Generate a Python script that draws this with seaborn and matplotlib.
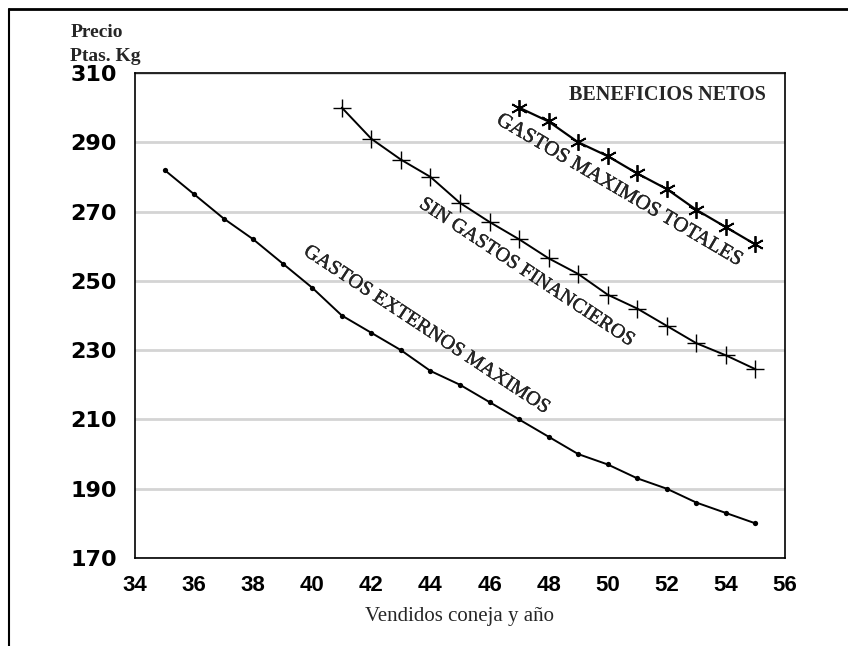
import matplotlib
matplotlib.use("Agg")
import matplotlib.pyplot as plt
import matplotlib.patheffects as pe
import seaborn as sns
import pandas as pd
from matplotlib.lines import Line2D

# ---- data ----
x_ext = [35, 36, 37, 38, 39, 40, 41, 42, 43, 44, 45, 46, 47, 48, 49, 50, 51, 52, 53, 54, 55]
y_ext = [282, 275, 268, 262, 255, 248, 240, 235, 230, 224, 220, 215, 210, 205, 200, 197, 193, 190, 186, 183, 180]

x_sin = [41, 42, 43, 44, 45, 46, 47, 48, 49, 50, 51, 52, 53, 54, 55]
y_sin = [300, 291, 285, 280, 272.5, 267, 262, 256.5, 252, 246, 242, 237, 232, 228.5, 224.5]

x_tot = [47, 48, 49, 50, 51, 52, 53, 54, 55]
y_tot = [300, 296, 290, 286, 281, 276.5, 270.5, 265.5, 260.5]

x_ticks = [34, 36, 38, 40, 42, 44, 46, 48, 50, 52, 54, 56]
y_ticks = [170, 190, 210, 230, 250, 270, 290, 310]

label_ext = "GASTOS EXTERNOS MAXIMOS"
label_sin = "SIN GASTOS FINANCIEROS"
label_tot = "GASTOS MAXIMOS TOTALES"

df_ext = pd.DataFrame({"x": x_ext, "y": y_ext})
df_sin = pd.DataFrame({"x": x_sin, "y": y_sin})
df_tot = pd.DataFrame({"x": x_tot, "y": y_tot})

sns.set_style("white")
plt.rcParams["font.family"] = ["Liberation Sans", "DejaVu Sans"]

fig = plt.figure(figsize=(8.48, 6.46), dpi=100)
ax = fig.add_axes([0.1592, 0.1362, 0.9257 - 0.1592, 0.887 - 0.1362])

sns.lineplot(data=df_ext, x="x", y="y", ax=ax, color="black", lw=1.4,
             marker="o", markersize=3.8, markeredgewidth=0, markerfacecolor="black")
sns.lineplot(data=df_sin, x="x", y="y", ax=ax, color="black", lw=1.4,
             marker="+", markersize=13, markeredgewidth=1.0, markeredgecolor="black")
sns.lineplot(data=df_tot, x="x", y="y", ax=ax, color="black", lw=1.6,
             marker=(6, 2, 0), markersize=12, markeredgewidth=1.3, markeredgecolor="black")

ax.set_xlim(34, 56)
ax.set_ylim(170, 310)
ax.set_xticks(x_ticks)
ax.set_yticks(y_ticks)
ax.set_xticklabels([str(v) for v in x_ticks], fontsize=16, fontweight="bold", family="Liberation Sans")
ax.set_yticklabels([str(v) for v in y_ticks], fontsize=16, fontweight="bold", family="DejaVu Sans")

ax.yaxis.grid(True, color="#d4d4d4", lw=2)
ax.xaxis.grid(False)
ax.set_axisbelow(True)

for s in ax.spines.values():
    s.set_visible(True)
    s.set_color("black")
    s.set_linewidth(1.2)

ax.tick_params(axis="x", direction="in", length=9, width=1, pad=12, colors="black")
ax.tick_params(axis="y", direction="out", length=4, width=1, pad=9, colors="black")

ax.set_xlabel("Vendidos coneja y año", fontsize=15, family="Liberation Serif", labelpad=8)
ax.set_ylabel("")

# curve labels
serif = "Liberation Serif"
thick = [pe.withStroke(linewidth=0.25, foreground="black")]
ax.text(43.86, 235.8, label_ext, rotation=-33.4, rotation_mode="anchor",
        ha="center", va="center", fontsize=14.5, family=serif, path_effects=thick)
ax.text(47.25, 252.4, label_sin, rotation=-33.5, rotation_mode="anchor",
        ha="center", va="center", fontsize=14.5, family=serif, path_effects=thick)
ax.text(50.4, 276.0, label_tot, rotation=-30.5, rotation_mode="anchor",
        ha="center", va="center", fontsize=15, family=serif, path_effects=thick)

ax.text(55.36, 303.7, "BENEFICIOS NETOS", ha="right", va="center",
        fontsize=14.5, family=serif, fontweight="bold")

fig.text(0.083, 0.950, "Precio", fontsize=14, family=serif, fontweight="bold",
         ha="left", va="center")
fig.text(0.083, 0.912, "Ptas. Kg", fontsize=14, family=serif, fontweight="bold",
         ha="left", va="center")

# outer frame (top and left)
fig.add_artist(Line2D([0.0106, 1.0], [0.986, 0.986], color="black", lw=2, transform=fig.transFigure))
fig.add_artist(Line2D([0.0106, 0.0106], [0.0, 0.986], color="black", lw=1.5, transform=fig.transFigure))

fig.savefig("out.png", dpi=100)
